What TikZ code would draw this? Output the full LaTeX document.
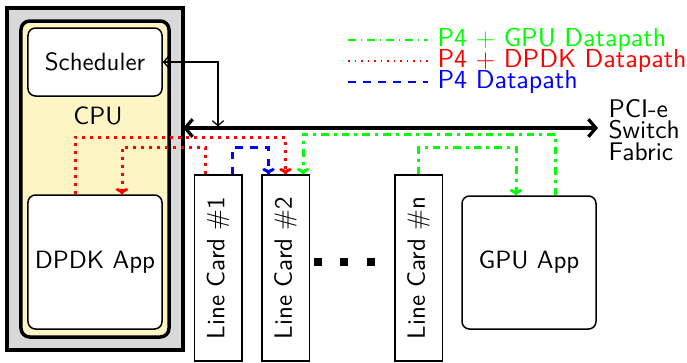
\documentclass[tikz,border=0pt]{standalone}
\usepackage{fontspec}
\usetikzlibrary{calc,arrows.meta}
\definecolor{cpuyellow}{RGB}{253,246,196}
\definecolor{boxgray}{RGB}{217,217,217}
\begin{document}
\begin{tikzpicture}[x=0.4pt,y=-0.4pt,
  font=\sffamily,
  box/.style={draw,line width=0.6pt,fill=white,inner sep=0pt},
  rbox/.style={box,rounded corners=3pt},
  card/.style={box,minimum width=19pt,minimum height=74.4pt},
  dp/.style={line width=1.2pt,-{To[length=2.5pt,width=5pt]}},
  sq/.style={fill=black,inner sep=0pt,minimum size=3.2pt},
  legtext/.style={anchor=west,inner sep=0pt,text height=6.6pt,text depth=1.6pt,font=\sffamily\fontsize{10.4}{12}\selectfont}]
\useasboundingbox (0,0) rectangle (687,362);
% CPU
\node[draw,line width=1.4pt,fill=boxgray,minimum width=70.4pt,minimum height=136.8pt,inner sep=0pt] (outer) at (95,179) {};
\node[draw,line width=1.4pt,fill=cpuyellow,rounded corners=3.5pt,minimum width=59.2pt,minimum height=126.4pt,inner sep=0pt] (cpu) at (95,179) {};
\node[rbox,minimum width=53.6pt,minimum height=27.2pt] (sched) at (95,62) {Scheduler};
\node (cpulbl) at (98,116) {CPU};
\node[rbox,minimum width=53.6pt,minimum height=53.6pt] (dpdk) at (95,262) {DPDK App};
% line cards
\node[card] (lc1) at (218,268) {};
\node[rotate=90] (lc1t) at (lc1) {Line Card \#1};
\node[card] (lc2) at (285.5,268) {};
\node[rotate=90] (lc2t) at (lc2) {Line Card \#2};
\node[card] (lcn) at (418.5,268) {};
\node[rotate=90] (lcnt) at (lcn) {Line Card \#n};
\node[sq] (d1) at (318,262) {};
\node[sq] (d2) at (344,262) {};
\node[sq] (d3) at (371,262) {};
% GPU
\node[rbox,minimum width=53.6pt,minimum height=53.2pt] (gpu) at (529,262.5) {GPU App};
% bus
\coordinate (busL) at (183,128);
\coordinate (busR) at (598,128);
\draw[line width=1.3pt,{Straight Barb[length=3pt,width=7pt]}-{Straight Barb[length=3pt,width=7pt]}] (busL) -- (busR);
\node[anchor=west,align=left,inner sep=0pt,font=\sffamily\fontsize{10.2}{8.5}\selectfont] (pci) at (608,130) {PCI-e\\Switch\\Fabric};
\draw[line width=0.5pt,{Straight Barb[length=2pt,width=4.5pt]}-{Straight Barb[length=2pt,width=4.5pt]},shorten >=0.6pt] (sched.east) -| (lc1.north |- busL);
% datapaths
\draw[dp,red,dotted] ($(dpdk.north)+(-20,0)$) -- ++(0,-57) -| (lc2.north);
\draw[dp,red,dotted] ($(lc1.north)+(-13,0)$) -- ++(0,-27) -| ($(dpdk.north)+(27,0)$);
\draw[dp,blue,dashed] ($(lc1.north)+(14,0)$) -- ++(0,-27) -| ($(lc2.north)+(-17,0)$);
\draw[dp,green,dash dot] ($(gpu.north)+(26,0)$) -- ++(0,-61) -| ($(lc2.north)+(17.5,0)$);
\draw[dp,green,dash dot] (lcn.north) -- ++(0,-27) -| ($(gpu.north)+(-13,0)$);
% legend
\coordinate (lg1a) at (348,40); \coordinate (lg1b) at (428,40);
\coordinate (lg2a) at (348,61); \coordinate (lg2b) at (428,61);
\coordinate (lg3a) at (348,82); \coordinate (lg3b) at (428,82);
\draw[green,line width=0.6pt,dash dot] (lg1a) -- (lg1b);
\draw[red,line width=0.6pt,dotted] (lg2a) -- (lg2b);
\draw[blue,line width=0.6pt,dashed] (lg3a) -- (lg3b);
\node[legtext,green] (lt1) at (437,40) {P4 $+$ GPU Datapath};
\node[legtext,red] (lt2) at (437,61) {P4 $+$ DPDK Datapath};
\node[legtext,blue] (lt3) at (437,82) {P4 Datapath};
\end{tikzpicture}
\end{document}
